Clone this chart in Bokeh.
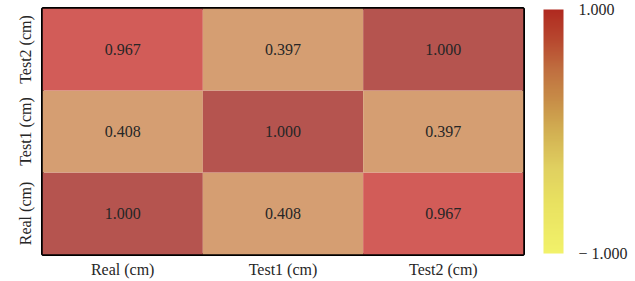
from bokeh.plotting import figure
from bokeh.models import (ColumnDataSource, LinearColorMapper, CategoricalColorMapper,
                          ColorBar, FixedTicker)
from bokeh.core.properties import value
from bokeh.embed import file_html
from bokeh.resources import INLINE

# ---- data ----
categories = ["Real (cm)", "Test1 (cm)", "Test2 (cm)"]
x_cat = ["Real (cm)", "Test1 (cm)", "Test2 (cm)",
         "Real (cm)", "Test1 (cm)", "Test2 (cm)",
         "Real (cm)", "Test1 (cm)", "Test2 (cm)"]
y_cat = ["Real (cm)", "Real (cm)", "Real (cm)",
         "Test1 (cm)", "Test1 (cm)", "Test1 (cm)",
         "Test2 (cm)", "Test2 (cm)", "Test2 (cm)"]
corr = [1.000, 0.408, 0.967,
        0.408, 1.000, 0.397,
        0.967, 0.397, 1.000]
cbar_low = -1.0
cbar_high = 1.0

labels = ["%.3f" % v for v in corr]
src = ColumnDataSource(dict(x=x_cat, y=y_cat, v=corr, lab=labels))

# ---- colours ----
def hex2rgb(h):
    h = h.lstrip("#")
    return tuple(int(h[i:i + 2], 16) for i in (0, 2, 4))

def interp_palette(stops, n=256):
    out = []
    for i in range(n):
        t = i / (n - 1)
        for (t0, c0), (t1, c1) in zip(stops[:-1], stops[1:]):
            if t0 <= t <= t1:
                f = 0 if t1 == t0 else (t - t0) / (t1 - t0)
                a, b = hex2rgb(c0), hex2rgb(c1)
                rgb = tuple(int(round(a[k] + (b[k] - a[k]) * f)) for k in range(3))
                out.append("#%02x%02x%02x" % rgb)
                break
    return out

bar_stops = [(0.0, "#f2f26a"), (0.22, "#e8e060"), (0.35, "#e0d060"),
             (0.5, "#d2b052"), (0.62, "#c89048"), (0.75, "#c07040"),
             (0.87, "#b84a30"), (1.0, "#b02a20")]
bar_palette = interp_palette(bar_stops)
bar_mapper = LinearColorMapper(palette=bar_palette, low=cbar_low, high=cbar_high)

cell_factors = ["0.397", "0.408", "0.967", "1.000"]
cell_mapper = CategoricalColorMapper(factors=cell_factors,
                                     palette=["#d59e72", "#d59e72", "#d25c58", "#b5544f"])

FONT = "Liberation Serif"
TXT = "#262626"

p = figure(width=635, height=281, x_range=categories, y_range=categories,
           output_backend="svg", toolbar_location=None,
           min_border_left=42, min_border_right=112, min_border_top=8, min_border_bottom=27)

p.rect(x="x", y="y", width=1, height=1, source=src,
       fill_color={"field": "lab", "transform": cell_mapper}, line_color=None)
p.text(x="x", y="y", text="lab", source=src, text_align="center", text_baseline="middle",
       text_font=value(FONT), text_font_size="16px", text_color=TXT)

p.outline_line_color = "black"
p.outline_line_width = 3
p.outline_line_alpha = 1
p.grid.grid_line_color = None
p.background_fill_color = "white"

for ax in (p.xaxis[0], p.yaxis[0]):
    ax.axis_line_color = None
    ax.major_tick_line_color = None
    ax.minor_tick_line_color = None
    ax.major_tick_out = 0
    ax.major_tick_in = 0
    ax.major_label_text_font = FONT
    ax.major_label_text_font_size = "16px"
    ax.major_label_text_color = TXT
p.xaxis.major_label_standoff = 6
p.yaxis.major_label_standoff = 9
p.yaxis.major_label_orientation = "vertical"

cb = ColorBar(color_mapper=bar_mapper, ticker=FixedTicker(ticks=[cbar_low, cbar_high]),
              major_label_overrides={cbar_low: "\u2212 1.000", cbar_high: "1.000"},
              width=20, height=244, location=(20, 1), margin=0, padding=0,
              bar_line_color=None, major_tick_line_color=None, minor_tick_line_color=None,
              major_tick_out=0, major_tick_in=0, label_standoff=15,
              major_label_text_font=FONT, major_label_text_font_size="16px",
              major_label_text_color=TXT, background_fill_alpha=0)
p.add_layout(cb, "right")

open("out.html", "w").write(file_html(p, INLINE))
